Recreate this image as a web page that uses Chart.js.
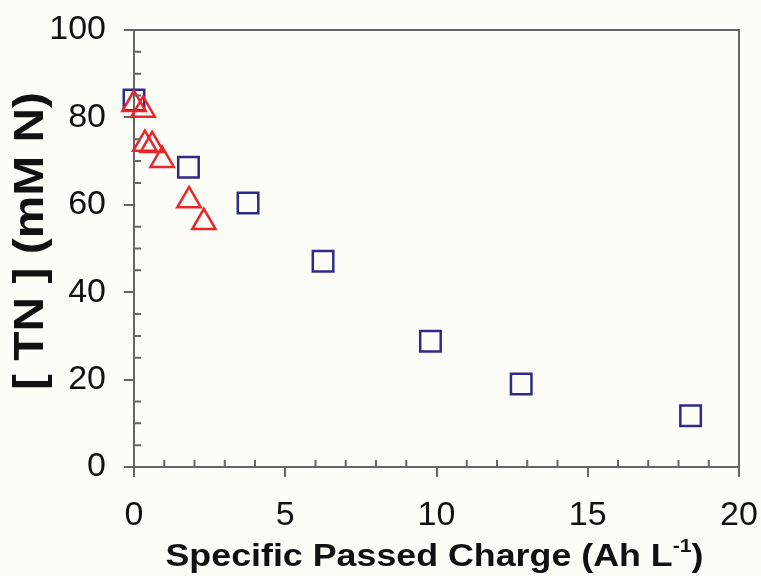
<!DOCTYPE html>
<html>
<head>
<meta charset="utf-8">
<script src="https://cdn.jsdelivr.net/npm/chart.js@4/dist/chart.umd.min.js"></script>
<style>
  html, body { margin: 0; padding: 0; background: #fdfdf8; }
  #wrap { width: 761px; height: 576px; position: relative; }
</style>
</head>
<body>
<div id="wrap"><canvas id="tnChart"></canvas></div>
<script>
// Squares (navy) and triangles (red): TN vs specific passed charge
const squareCharge = [0, 1.8, 3.77, 6.25, 9.8, 12.8, 18.4]
const squareTN = [84, 68.6, 60.4, 47.1, 28.8, 19.0, 11.7]
const triangleCharge = [0, 0.3, 0.36, 0.6, 0.93, 1.82, 2.31]
const triangleTN = [83, 81.7, 73.9, 73.6, 70.2, 61, 56]

const xTicks = [0, 5, 10, 15, 20]
const yTicks = [0, 20, 40, 60, 80, 100]
const xTitle = "Specific Passed Charge (Ah L"
const xTitleSup = "-1"
const yTitle = "[ TN ] (mM N)"

const axisColor = "#666"
const fontFamily = "'Liberation Sans', Arial, sans-serif"

const toPoints = (xs, ys) => xs.map((x, i) => ({ x: x, y: ys[i] }))

// frame, inward minor ticks and both axis titles (the originals are a bit stretched)
const framePlugin = {
  id: "frame",
  afterDraw(chart) {
    const { ctx, chartArea: a, scales } = chart
    ctx.save()
    ctx.strokeStyle = axisColor
    ctx.lineWidth = 2
    ctx.beginPath()
    ctx.moveTo(a.left, a.top)
    ctx.lineTo(a.right, a.top)
    ctx.lineTo(a.right, a.bottom)
    ctx.stroke()

    ctx.beginPath()
    for (let v = 1; v < 20; v++) {
      if (v % 5 === 0) continue
      const px = scales.x.getPixelForValue(v)
      ctx.moveTo(px, a.bottom)
      ctx.lineTo(px, a.bottom - 7)
    }
    for (let v = 5; v < 100; v += 5) {
      if (v % 20 === 0) continue
      const py = scales.y.getPixelForValue(v)
      ctx.moveTo(a.left, py)
      ctx.lineTo(a.left + 7, py)
    }
    ctx.stroke()

    ctx.fillStyle = "#111"

    // x axis title with superscript
    const mainFont = "bold 32px " + fontFamily
    const supFont = "bold 19px " + fontFamily
    ctx.font = mainFont
    const w1 = ctx.measureText(xTitle).width
    const w3 = ctx.measureText(")").width
    ctx.font = supFont
    const w2 = ctx.measureText(xTitleSup).width
    const total = w1 + w2 + w3
    const sx = 538 / total
    ctx.save()
    ctx.translate((a.left + a.right) / 2 - 2, 566)
    ctx.scale(sx, 1)
    ctx.textAlign = "left"
    ctx.textBaseline = "alphabetic"
    let x = -total / 2
    ctx.font = mainFont
    ctx.fillText(xTitle, x, 0)
    x += w1
    ctx.font = supFont
    ctx.fillText(xTitleSup, x, -14)
    x += w2
    ctx.font = mainFont
    ctx.fillText(")", x, 0)
    ctx.restore()

    // y axis title
    ctx.save()
    ctx.font = "bold 42px " + fontFamily
    const wy = ctx.measureText(yTitle).width
    ctx.translate(31, 241)
    ctx.rotate(-Math.PI / 2)
    ctx.scale(298 / wy, 1)
    ctx.textAlign = "center"
    ctx.textBaseline = "middle"
    ctx.fillText(yTitle, 0, 0)
    ctx.restore()

    ctx.restore()
  },
}

new Chart(document.getElementById("tnChart"), {
  type: "scatter",
  data: {
    datasets: [
      {
        label: "Triangles",
        data: toPoints(triangleCharge, triangleTN),
        pointStyle: "triangle",
        pointRadius: 13.5,
        pointHoverRadius: 13.5,
        pointBorderWidth: 2.5,
        borderColor: "#e8262b",
        backgroundColor: "rgba(0,0,0,0)",
        clip: false,
      },
      {
        label: "Squares",
        data: toPoints(squareCharge, squareTN),
        pointStyle: "rect",
        pointRadius: 14.5,
        pointHoverRadius: 14.5,
        pointBorderWidth: 2.5,
        borderColor: "#2d2a8a",
        backgroundColor: "rgba(0,0,0,0)",
        clip: false,
      },
    ],
  },
  options: {
    responsive: true,
    maintainAspectRatio: false,
    animation: false,
    layout: { padding: { top: 30, right: 22, left: 0, bottom: 0 } },
    scales: {
      x: {
        type: "linear",
        min: 0,
        max: 20,
        afterBuildTicks: (s) => { s.ticks = xTicks.map((v) => ({ value: v })) },
        afterFit: (s) => {
          s.height = 576 - 467
          s.paddingLeft = 0
          s.paddingRight = 0
        },
        border: { display: true, color: axisColor, width: 2 },
        grid: { display: true, drawOnChartArea: false, drawTicks: true, tickLength: 10, color: axisColor, lineWidth: 2 },
        ticks: { color: "#111", padding: 18, maxRotation: 0, font: { family: fontFamily, size: 34 } },
      },
      y: {
        type: "linear",
        min: 0,
        max: 100,
        afterBuildTicks: (s) => { s.ticks = yTicks.map((v) => ({ value: v })) },
        afterFit: (s) => {
          s.width = 134
          s.paddingTop = 0
          s.paddingBottom = 0
        },
        border: { display: true, color: axisColor, width: 2 },
        grid: { display: true, drawOnChartArea: false, drawTicks: true, tickLength: 10, color: axisColor, lineWidth: 2 },
        ticks: { color: "#111", padding: 18, font: { family: fontFamily, size: 34 } },
        title: { display: false, text: yTitle },
      },
    },
    plugins: {
      legend: { display: false },
      tooltip: { enabled: false },
    },
  },
  plugins: [framePlugin],
})
</script>
</body>
</html>
